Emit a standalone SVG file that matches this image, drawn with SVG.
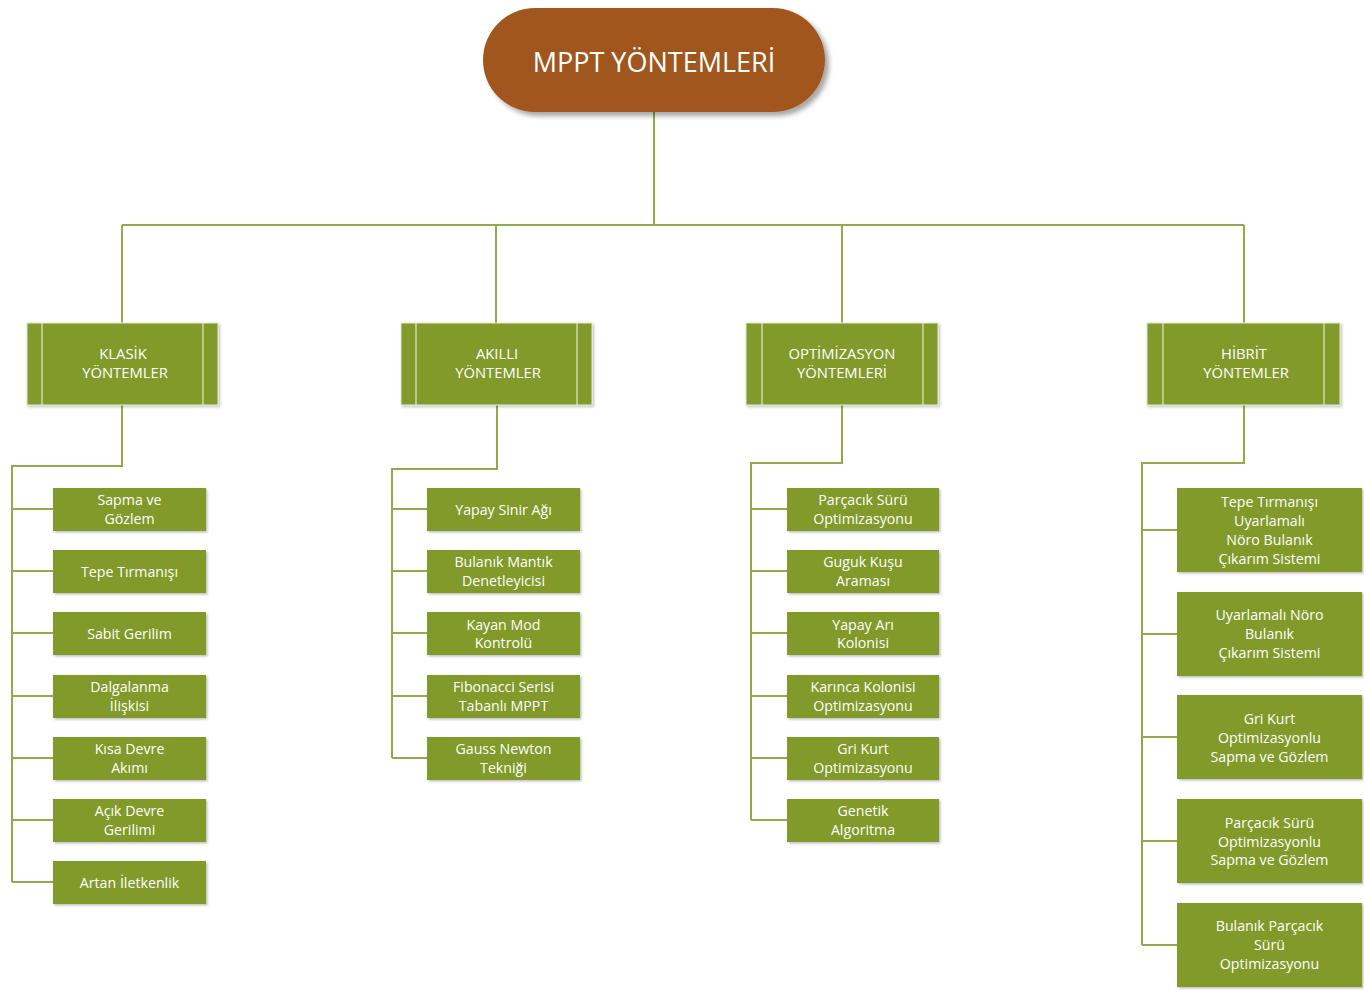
<svg xmlns="http://www.w3.org/2000/svg" width="1364" height="990" viewBox="0 0 1364 990">
<style>
.lf{fill:#819A2C;filter:url(#sh)}
.cat{fill:#819A2C;stroke:#E2E8CF;stroke-width:1;filter:url(#sh)}
.in{stroke:#E2E8CF;stroke-width:1.2}
.t{font-family:"Open Sans","Noto Sans",sans-serif;font-size:14.2px;fill:#fff;text-anchor:middle;dominant-baseline:central}
.ct{font-family:"Open Sans","Noto Sans",sans-serif;font-size:14.8px;fill:#fff;text-anchor:middle;dominant-baseline:central}
.c{fill:none;stroke:#93AA4C;stroke-width:2}
</style>
<defs>
<filter id="sh" x="-10%" y="-10%" width="130%" height="140%"><feDropShadow dx="1.5" dy="1.5" stdDeviation="1" flood-color="#000" flood-opacity="0.25"/></filter>
<filter id="sh2" x="-10%" y="-10%" width="130%" height="140%"><feDropShadow dx="4" dy="4" stdDeviation="2.5" flood-color="#000" flood-opacity="0.35"/></filter>
</defs>
<rect width="1364" height="990" fill="#fff"/>
<g id="connectors">
<path class="c" d="M654 112V225M122 225H1244M122 225V323M496 225V323M842 225V323M1244 225V323"/>
<path class="c" d="M122 405V466H12V882M12 509H53M12 571H53M12 633H53M12 696H53M12 758H53M12 820H53M12 882H53"/>
<path class="c" d="M497 405V469H392V758M392 509H427M392 571H427M392 633H427M392 696H427M392 758H427"/>
<path class="c" d="M842 405V463H751V820M751 509H787M751 571H787M751 633H787M751 696H787M751 758H787M751 820H787"/>
<path class="c" d="M1244 405V463H1142V945M1142 530H1177M1142 634H1177M1142 737H1177M1142 841H1177M1142 945H1177"/>
</g>
<g id="root">
<rect x="483" y="8" width="342" height="104" rx="52" fill="#A0571E" filter="url(#sh2)"/>
<text x="654" y="61" font-family="'Open Sans','Noto Sans',sans-serif" font-size="27" fill="#fff" text-anchor="middle" dominant-baseline="central">MPPT YÖNTEMLERİ</text>
</g>
<g id="cat-klasik">
<rect class="cat" x="27" y="323" width="191" height="82"/>
<path class="in" d="M42 323V405M203 323V405"/>
<text class="ct" x="123" y="353">KLASİK</text><text class="ct" x="125" y="372">YÖNTEMLER</text>
</g>
<g id="cat-akilli">
<rect class="cat" x="401" y="323" width="191" height="82"/>
<path class="in" d="M416 323V405M577 323V405"/>
<text class="ct" x="497" y="353">AKILLI</text><text class="ct" x="498" y="372">YÖNTEMLER</text>
</g>
<g id="cat-opt">
<rect class="cat" x="746" y="323" width="192" height="82"/>
<path class="in" d="M762 323V405M923 323V405"/>
<text class="ct" x="842" y="353">OPTİMİZASYON</text><text class="ct" x="842" y="372">YÖNTEMLERİ</text>
</g>
<g id="cat-hibrit">
<rect class="cat" x="1147" y="323" width="193" height="82"/>
<path class="in" d="M1163 323V405M1324 323V405"/>
<text class="ct" x="1244" y="353">HİBRİT</text><text class="ct" x="1246" y="372">YÖNTEMLER</text>
</g>
<g id="k1"><rect class="lf" x="53" y="488" width="153" height="43"/><text class="t" x="129.5" y="499">Sapma ve</text><text class="t" x="129.5" y="518">Gözlem</text></g>
<g id="k2"><rect class="lf" x="53" y="550" width="153" height="43"/><text class="t" x="129.5" y="571">Tepe Tırmanışı</text></g>
<g id="k3"><rect class="lf" x="53" y="612" width="153" height="43"/><text class="t" x="129.5" y="633">Sabit Gerilim</text></g>
<g id="k4"><rect class="lf" x="53" y="675" width="153" height="43"/><text class="t" x="129.5" y="686">Dalgalanma</text><text class="t" x="129.5" y="705">İlişkisi</text></g>
<g id="k5"><rect class="lf" x="53" y="737" width="153" height="43"/><text class="t" x="129.5" y="748">Kısa Devre</text><text class="t" x="129.5" y="767">Akımı</text></g>
<g id="k6"><rect class="lf" x="53" y="799" width="153" height="43"/><text class="t" x="129.5" y="810">Açık Devre</text><text class="t" x="129.5" y="829">Gerilimi</text></g>
<g id="k7"><rect class="lf" x="53" y="861" width="153" height="43"/><text class="t" x="129.5" y="882">Artan İletkenlik</text></g>
<g id="a1"><rect class="lf" x="427" y="488" width="153" height="43"/><text class="t" x="503.5" y="509">Yapay Sinir Ağı</text></g>
<g id="a2"><rect class="lf" x="427" y="550" width="153" height="43"/><text class="t" x="503.5" y="561">Bulanık Mantık</text><text class="t" x="503.5" y="580">Denetleyicisi</text></g>
<g id="a3"><rect class="lf" x="427" y="612" width="153" height="43"/><text class="t" x="503.5" y="624">Kayan Mod</text><text class="t" x="503.5" y="642">Kontrolü</text></g>
<g id="a4"><rect class="lf" x="427" y="675" width="153" height="43"/><text class="t" x="503.5" y="686">Fibonacci Serisi</text><text class="t" x="503.5" y="705">Tabanlı MPPT</text></g>
<g id="a5"><rect class="lf" x="427" y="737" width="153" height="43"/><text class="t" x="503.5" y="748">Gauss Newton</text><text class="t" x="503.5" y="767">Tekniği</text></g>
<g id="o1"><rect class="lf" x="787" y="488" width="152" height="43"/><text class="t" x="863" y="499">Parçacık Sürü</text><text class="t" x="863" y="518">Optimizasyonu</text></g>
<g id="o2"><rect class="lf" x="787" y="550" width="152" height="43"/><text class="t" x="863" y="561">Guguk Kuşu</text><text class="t" x="863" y="580">Araması</text></g>
<g id="o3"><rect class="lf" x="787" y="612" width="152" height="43"/><text class="t" x="863" y="624">Yapay Arı</text><text class="t" x="863" y="642">Kolonisi</text></g>
<g id="o4"><rect class="lf" x="787" y="675" width="152" height="43"/><text class="t" x="863" y="686">Karınca Kolonisi</text><text class="t" x="863" y="705">Optimizasyonu</text></g>
<g id="o5"><rect class="lf" x="787" y="737" width="152" height="43"/><text class="t" x="863" y="748">Gri Kurt</text><text class="t" x="863" y="767">Optimizasyonu</text></g>
<g id="o6"><rect class="lf" x="787" y="799" width="152" height="43"/><text class="t" x="863" y="810">Genetik</text><text class="t" x="863" y="829">Algoritma</text></g>
<g id="h1"><rect class="lf" x="1177" y="488" width="185" height="84"/><text class="t" x="1269.5" y="501">Tepe Tırmanışı</text><text class="t" x="1269.5" y="520">Uyarlamalı</text><text class="t" x="1269.5" y="539">Nöro Bulanık</text><text class="t" x="1269.5" y="558">Çıkarım Sistemi</text></g>
<g id="h2"><rect class="lf" x="1177" y="592" width="185" height="84"/><text class="t" x="1269.5" y="614">Uyarlamalı Nöro</text><text class="t" x="1269.5" y="633">Bulanık</text><text class="t" x="1269.5" y="652">Çıkarım Sistemi</text></g>
<g id="h3"><rect class="lf" x="1177" y="695" width="185" height="84"/><text class="t" x="1269.5" y="718">Gri Kurt</text><text class="t" x="1269.5" y="737">Optimizasyonlu</text><text class="t" x="1269.5" y="756">Sapma ve Gözlem</text></g>
<g id="h4"><rect class="lf" x="1177" y="799" width="185" height="84"/><text class="t" x="1269.5" y="822">Parçacık Sürü</text><text class="t" x="1269.5" y="841">Optimizasyonlu</text><text class="t" x="1269.5" y="859">Sapma ve Gözlem</text></g>
<g id="h5"><rect class="lf" x="1177" y="903" width="185" height="84"/><text class="t" x="1269.5" y="925">Bulanık Parçacık</text><text class="t" x="1269.5" y="944">Sürü</text><text class="t" x="1269.5" y="963">Optimizasyonu</text></g>
</svg>
